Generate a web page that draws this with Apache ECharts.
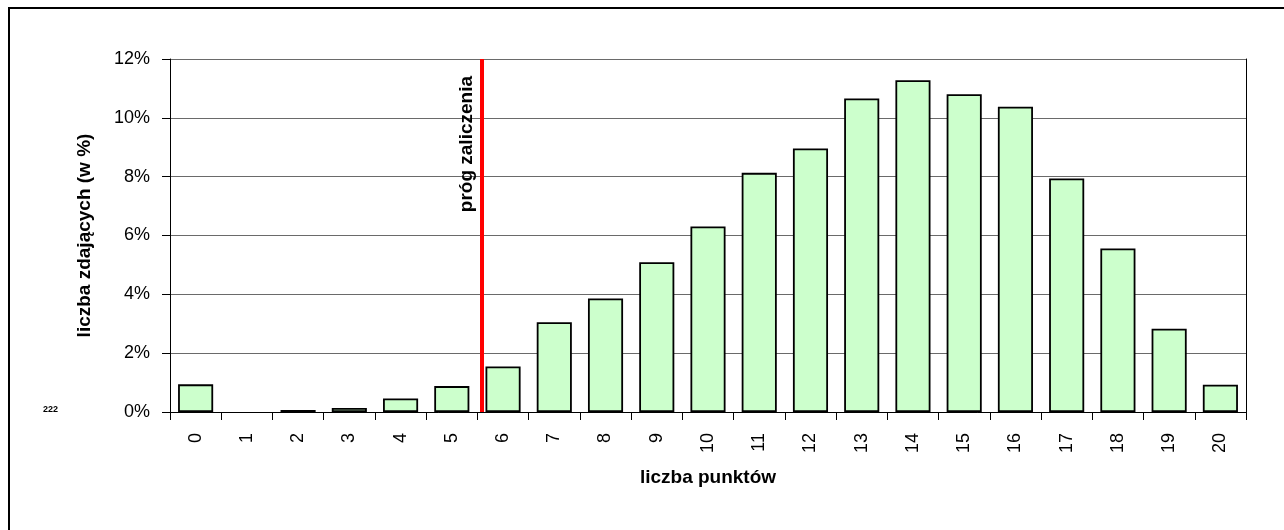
<!DOCTYPE html>
<html>
<head>
<meta charset="utf-8">
<script src="https://cdn.jsdelivr.net/npm/echarts@6/dist/echarts.min.js"></script>
<style>
html,body{margin:0;padding:0;background:#fff;}
#chart{width:1284px;height:530px;}
</style>
</head>
<body>
<div id="chart"></div>
<script>
// categories: number of points
const categories = ['0','1','2','3','4','5','6','7','8','9','10','11','12','13','14','15','16','17','18','19','20'];
// share of test takers (%)
const shares = [0.94, 0, 0.07, 0.14, 0.46, 0.88, 1.55, 3.05, 3.86, 5.09, 6.31, 8.13, 8.96, 10.66, 11.28, 10.80, 10.38, 7.94, 5.56, 2.83, 0.93];
// y-axis ticks
const yTicks = [0, 2, 4, 6, 8, 10, 12];
// pass threshold position on the points scale (between 5 and 6)
const passThreshold = [5.58];
const thresholdLabel = 'próg zaliczenia';
const xTitle = 'liczba punktów';
const yTitle = 'liczba zdających (w %)';
const cornerNote = '222';

const chart = echarts.init(document.getElementById('chart'));
const sans = "'Liberation Sans',Arial,sans-serif";

chart.setOption({
  backgroundColor: '#ffffff',
  animation: false,
  grid: {left: 170, right: 38, top: 59, bottom: 118},
  xAxis: [{
    type: 'category',
    data: categories,
    name: xTitle,
    nameLocation: 'middle',
    nameGap: 56,
    nameTextStyle: {fontFamily: sans, fontWeight: 'bold', fontSize: 19, color: '#000'},
    axisLine: {lineStyle: {color: '#000', width: 1}},
    axisTick: {show: true, length: 8, lineStyle: {color: '#000'}},
    axisLabel: {rotate: 90, margin: 21, fontFamily: sans, fontSize: 18, color: '#000', interval: 0},
    splitLine: {show: false}
  }, {
    type: 'value',
    min: -0.5,
    max: 20.5,
    show: false
  }],
  yAxis: [{
    type: 'value',
    min: yTicks[0],
    max: yTicks[yTicks.length - 1],
    interval: yTicks[1] - yTicks[0],
    name: yTitle,
    nameLocation: 'middle',
    nameGap: 76,
    nameTextStyle: {fontFamily: sans, fontWeight: 'bold', fontSize: 19, color: '#000'},
    axisLine: {show: true, onZero: false, lineStyle: {color: '#000', width: 1}},
    axisTick: {show: true, length: 8, lineStyle: {color: '#000'}},
    axisLabel: {margin: 20, fontFamily: sans, fontSize: 18, color: '#000', formatter: '{value}%'},
    splitLine: {show: true, lineStyle: {color: '#6a6a6a', width: 1}}
  }, {
    type: 'value',
    position: 'right',
    min: yTicks[0],
    max: yTicks[yTicks.length - 1],
    interval: yTicks[1] - yTicks[0],
    axisLine: {show: true, onZero: false, lineStyle: {color: '#000', width: 1}},
    axisTick: {show: false},
    axisLabel: {show: false},
    splitLine: {show: false}
  }],
  series: [{
    type: 'bar',
    data: shares.map(v => v === 0 ? {value: v, itemStyle: {borderWidth: 0}} : v),
    barCategoryGap: '31.5%',
    itemStyle: {color: '#CCFFCC', borderColor: '#000', borderWidth: 1.8},
    silent: true
  }, {
    type: 'line',
    xAxisIndex: 1,
    yAxisIndex: 0,
    data: [],
    silent: true,
    markLine: {
      silent: true,
      symbol: ['none', 'none'],
      lineStyle: {color: '#FF0000', width: 4, type: 'solid'},
      label: {
        show: true,
        formatter: thresholdLabel,
        position: 'insideEndTop',
        distance: [17, 5],
        fontFamily: sans,
        fontWeight: 'bold',
        fontSize: 19,
        color: '#000'
      },
      data: passThreshold.map(v => ({xAxis: v}))
    }
  }],
  graphic: [{
    type: 'rect',
    shape: {x: 9, y: 8, width: 1300, height: 560},
    style: {fill: 'none', stroke: '#000', lineWidth: 2},
    silent: true
  }, {
    type: 'text',
    left: 43,
    top: 405,
    style: {text: cornerNote, fontFamily: sans, fontWeight: 'bold', fontSize: 9, fill: '#000'},
    silent: true
  }]
});
</script>
</body>
</html>
